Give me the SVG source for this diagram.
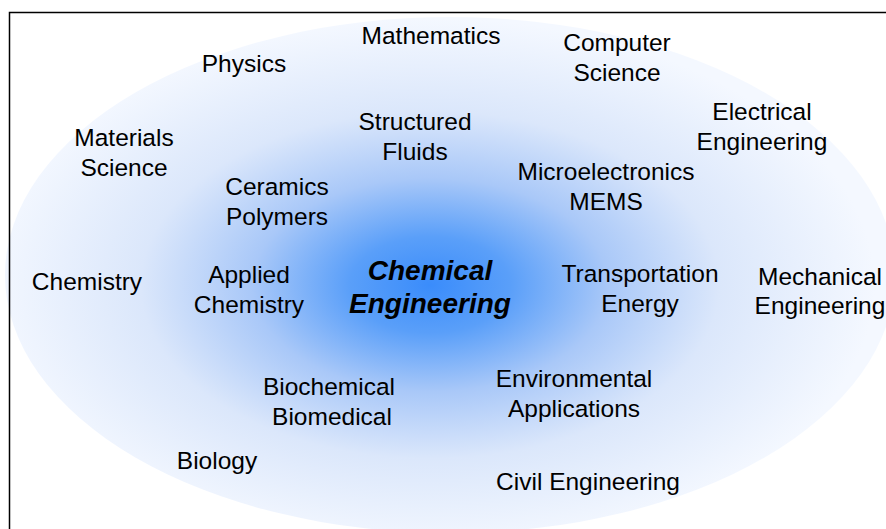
<svg xmlns="http://www.w3.org/2000/svg" width="886" height="529" viewBox="0 0 886 529">
<defs>
<radialGradient id="glow" cx="430" cy="285" r="445" gradientUnits="userSpaceOnUse" gradientTransform="translate(430 285) scale(1 0.6) translate(-430 -285)">
<stop offset="0" stop-color="#3a8cfb"/>
<stop offset="0.18" stop-color="#5a9ff9"/>
<stop offset="0.4" stop-color="#a9c8f8"/>
<stop offset="0.65" stop-color="#dbe7fb"/>
<stop offset="1" stop-color="#f4f8ff"/>
</radialGradient>
<style>
text{font-family:"Liberation Sans",Arial,sans-serif;font-size:24.5px;fill:#000;text-anchor:middle}
.main{font-weight:bold;font-style:italic;font-size:28px}
</style>
</defs>
<rect width="886" height="529" fill="#fff"/>
<ellipse cx="450" cy="275" rx="445" ry="258" fill="url(#glow)"/>
<path d="M9.5 529V12.5H886" fill="none" stroke="#000" stroke-width="1.5"/>
<g id="mathematics"><text x="431" y="44">Mathematics</text></g>
<g id="physics"><text x="244" y="72">Physics</text></g>
<g id="computer-science"><text x="617" y="51">Computer</text><text x="617" y="81">Science</text></g>
<g id="electrical-engineering"><text x="762" y="120">Electrical</text><text x="762" y="150">Engineering</text></g>
<g id="materials-science"><text x="124" y="146">Materials</text><text x="124" y="176">Science</text></g>
<g id="structured-fluids"><text x="415" y="130">Structured</text><text x="415" y="160">Fluids</text></g>
<g id="microelectronics"><text x="606" y="180">Microelectronics</text><text x="606" y="210">MEMS</text></g>
<g id="ceramics"><text x="277" y="195">Ceramics</text><text x="277" y="225">Polymers</text></g>
<g id="chemistry"><text x="87" y="290">Chemistry</text></g>
<g id="applied-chemistry"><text x="249" y="283">Applied</text><text x="249" y="313">Chemistry</text></g>
<g id="chemical-engineering"><text class="main" x="430" y="280">Chemical</text><text class="main" x="430" y="313">Engineering</text></g>
<g id="transportation"><text x="640" y="282">Transportation</text><text x="640" y="312">Energy</text></g>
<g id="mechanical-engineering"><text x="820" y="285">Mechanical</text><text x="820" y="314">Engineering</text></g>
<g id="biochemical"><text x="329" y="395">Biochemical</text><text x="332" y="425">Biomedical</text></g>
<g id="environmental"><text x="574" y="387">Environmental</text><text x="574" y="417">Applications</text></g>
<g id="biology"><text x="217" y="469">Biology</text></g>
<g id="civil-engineering"><text x="588" y="490">Civil Engineering</text></g>
<g id="connectors"/>
</svg>
